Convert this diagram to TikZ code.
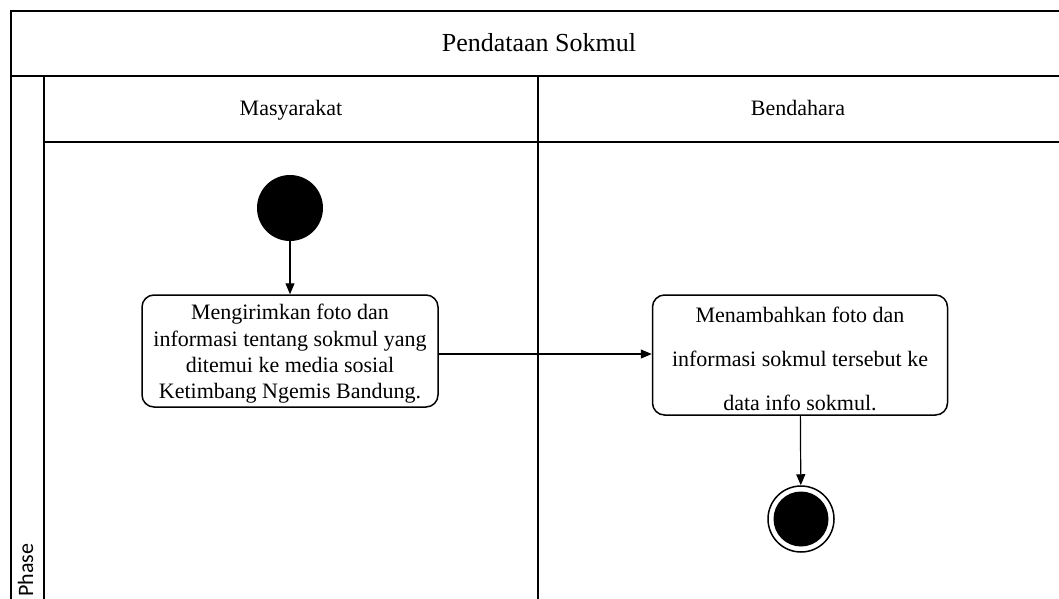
\documentclass[tikz,border=0pt]{standalone}
\usepackage{fontspec}
\setmainfont{Liberation Serif}
\newfontfamily\phasefont{Carlito}
\usepackage{tikz}
\usetikzlibrary{arrows.meta}

\begin{document}
\begin{tikzpicture}[x=0.5pt,y=-0.5pt,
	lane/.style={line width=1pt},
	act/.style={draw, rounded corners=6pt, line width=0.75pt, align=center, inner xsep=2pt, inner ysep=1pt, font=\fontsize{11}{13.2}\selectfont},
	flow/.style={-{Triangle[length=5.5pt,width=4.5pt]}, line width=0.6pt}]
			\useasboundingbox (0,0) rectangle (1059,599);

			\pgfmathsetmacro\XL{11}
			\pgfmathsetmacro\XP{44}
			\pgfmathsetmacro\XM{538}
			\pgfmathsetmacro\XR{1059}
			\pgfmathsetmacro\YT{11}
			\pgfmathsetmacro\YH{76}
			\pgfmathsetmacro\YL{142}
			\pgfmathsetmacro\YB{599}

			% frame
			\draw [lane] (\XR,\YT) -- (\XL,\YT) -- (\XL,\YB);
			\draw [lane] (\XL,\YH) -- (\XR,\YH);
			\draw [lane] (\XP,\YH) -- (\XP,\YB);
			\draw [lane] (\XP,\YL) -- (\XR,\YL);
			\draw [lane] (\XM,\YH) -- (\XM,\YB);

			\node [font=\fontsize{13}{15}\selectfont] (title) at (539,43) {Pendataan Sokmul};
			\node [anchor=base, font=\fontsize{11}{13}\selectfont] (masy) at (291,116) {Masyarakat};
			\node [anchor=base, font=\fontsize{11}{13}\selectfont] (bend) at (798,116) {Bendahara};
			\node [rotate=90, anchor=base west, inner sep=0pt, font=\phasefont\fontsize{11}{13}\selectfont] (phase) at (33,597) {Phase};

			% activities
			\node [circle, fill=black, minimum size=33pt, inner sep=0pt] (start) at (290,208) {};
			\node [act, minimum width=148pt, minimum height=56pt] (kirim) at (290,351) {\raisebox{-1.5pt}[\height][\depth]{\begin{tabular}{@{}c@{}}Mengirimkan foto dan\\informasi tentang sokmul yang\\ditemui ke media sosial\\Ketimbang Ngemis Bandung.\end{tabular}}};
			\node [act, minimum width=147.5pt, minimum height=60pt] (tambah) at (800,355) {\raisebox{-3pt}[\height][\depth]{\begin{tabular}{@{}c@{}}Menambahkan foto dan\\[8.8pt]informasi sokmul tersebut ke\\[8.8pt]data info sokmul.\end{tabular}}};
			\node [circle, draw, line width=0.75pt, minimum size=33pt, inner sep=0pt,
				path picture={\fill (path picture bounding box.center) circle (13.75pt);}] (selesai) at (801,519) {};

			\draw [flow] (start) -- (kirim);
			\draw [flow] ([yshift=-1.5pt]kirim.east) -- ([yshift=-1.5pt]kirim.east -| tambah.west);
			\draw [flow] (tambah) -- (selesai);

		\end{tikzpicture}
\end{document}
